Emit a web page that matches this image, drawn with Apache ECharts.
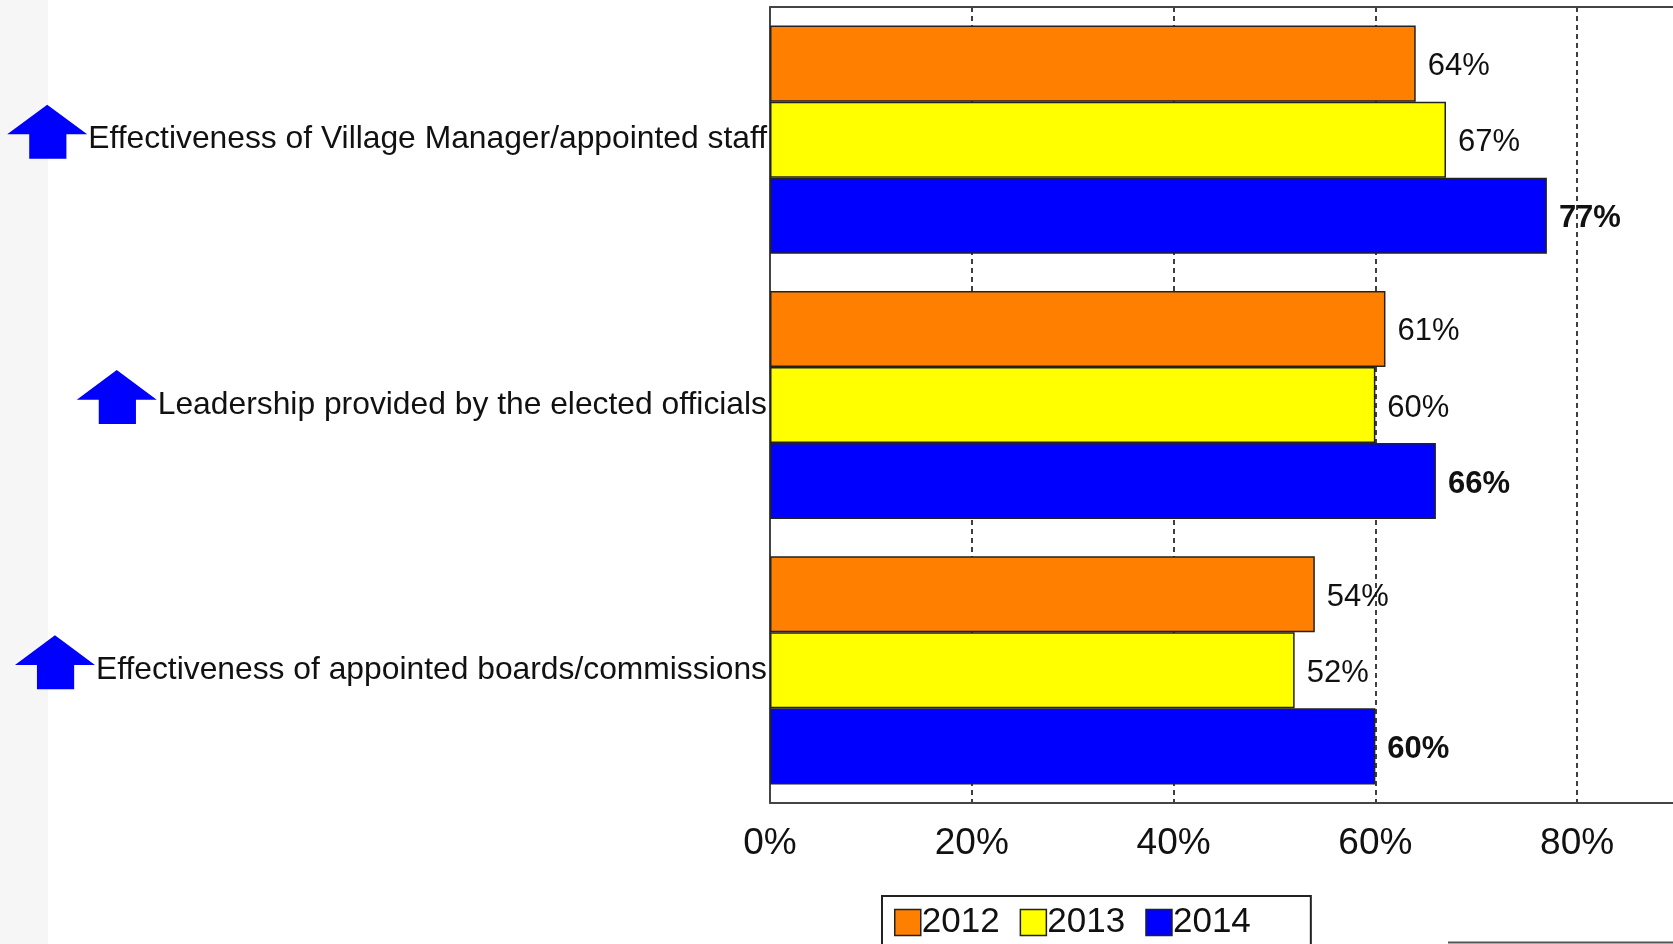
<!DOCTYPE html>
<html>
<head>
<meta charset="utf-8">
<title>Satisfaction with village leadership</title>
<script src="https://cdn.jsdelivr.net/npm/echarts@6/dist/echarts.min.js"></script>
<style>
    html, body { margin: 0; padding: 0; background: #fff; }
    #chart { width: 1673px; height: 944px; }
</style>
</head>
<body>
<div id="chart"></div>
<script>
// Data
const categories = [
    'Effectiveness of Village Manager/appointed staff',
    'Leadership provided by the elected officials',
    'Effectiveness of appointed boards/commissions'
];
const years = ['2012', '2013', '2014'];
const values2012 = [64, 61, 54];
const values2013 = [67, 60, 52];
const values2014 = [77, 66, 60];
const tickValues = [0, 20, 40, 60, 80];

const FONT = '"Liberation Sans", Arial, sans-serif';
const LABEL_SIZE = 31.8;
const colors = ['#FF8000', '#FFFF00', '#0000FF'];

const chart = echarts.init(document.getElementById('chart'));

function barSeries(name, data, color, bold) {
    return {
        name: name,
        type: 'bar',
        data: data,
        barGap: '0%',
        barCategoryGap: '14%',
        itemStyle: { color: color, borderColor: '#222', borderWidth: 1.5 },
        label: {
            show: true,
            position: 'right',
            distance: 12,
            offset: [0, 3],
            formatter: '{c}%',
            fontFamily: FONT,
            fontSize: 31,
            fontWeight: bold ? 'bold' : 'normal',
            color: '#111'
        }
    };
}

// the plot runs off the right edge of the slide, so the axis stops short of 100%
const option = {
    animation: false,
    backgroundColor: '#fff',
    grid: {
        left: 770,
        top: 7,
        bottom: 141,
        right: 0
    },
    legend: {
        data: years,
        left: 882,
        top: 896,
        orient: 'horizontal',
        icon: 'rect',
        itemWidth: 26,
        itemHeight: 26,
        itemGap: 20,
        padding: [9, 60, 40, 12],
        backgroundColor: '#fff',
        borderColor: '#222',
        borderWidth: 2,
        itemStyle: { borderColor: '#222', borderWidth: 1.5 },
        textStyle: { fontFamily: FONT, fontSize: 35, color: '#111', padding: [0, 0, 0, -4] }
    },
    xAxis: [{
        type: 'value',
        min: 0,
        max: 89.5,
        interval: 20,
        axisLine: { show: true, lineStyle: { color: '#444', width: 2 } },
        axisTick: { show: false },
        splitLine: {
            show: true,
            showMinLine: false,
            showMaxLine: false,
            lineStyle: { color: '#000', type: [5, 4], width: 1.5 }
        },
        axisLabel: {
            margin: 22,
            fontFamily: FONT,
            fontSize: 37,
            color: '#111',
            showMaxLabel: false,
            formatter: function (v) { return tickValues.indexOf(v) >= 0 ? v + '%' : ''; }
        }
    }, {
        // top border of the plot
        type: 'value',
        position: 'top',
        min: 0,
        max: 89.5,
        interval: 20,
        axisLine: { show: true, lineStyle: { color: '#444', width: 2 } },
        axisTick: { show: false },
        axisLabel: { show: false },
        splitLine: { show: false }
    }],
    yAxis: {
        type: 'category',
        data: categories,
        inverse: true,
        axisLine: { show: true, lineStyle: { color: '#444', width: 2 } },
        axisTick: { show: false },
        axisLabel: {
            margin: 3,
            padding: [5, 0, 0, 0],
            fontFamily: FONT,
            fontSize: LABEL_SIZE,
            color: '#111'
        }
    },
    series: [
        barSeries('2012', values2012, colors[0], false),
        barSeries('2013', values2013, colors[1], false),
        barSeries('2014', values2014, colors[2], true)
    ]
};
chart.setOption(option);

// Blue "up" arrows sitting just left of each category label
const ctx = document.createElement('canvas').getContext('2d');
ctx.font = LABEL_SIZE + 'px ' + FONT;
const arrowW = 80, arrowH = 54;
const graphics = [
    // faint textured strip on the left of the slide
    { type: 'rect', shape: { x: 0, y: 0, width: 48, height: 944 }, style: { fill: '#f6f6f6' }, silent: true },
    // short rule at the bottom right of the slide
    { type: 'line', shape: { x1: 1448, y1: 942.5, x2: 1673, y2: 942.5 }, style: { stroke: '#555', lineWidth: 2 } }
];
categories.forEach(function (name) {
    const cy = chart.convertToPixel({ yAxisIndex: 0 }, name);
    const textLeft = 770 - 3 - ctx.measureText(name).width;
    const x0 = textLeft - 1 - arrowW;
    const y0 = cy - 35;
    const w = arrowW, h = arrowH;
    graphics.push({
        type: 'polygon',
        shape: {
            points: [
                [x0 + w * 0.5, y0],
                [x0 + w, y0 + h * 0.55],
                [x0 + w * 0.74, y0 + h * 0.55],
                [x0 + w * 0.74, y0 + h],
                [x0 + w * 0.275, y0 + h],
                [x0 + w * 0.275, y0 + h * 0.55],
                [x0, y0 + h * 0.55]
            ]
        },
        style: { fill: '#0000FF' }
    });
});
chart.setOption({ graphic: graphics });
</script>
</body>
</html>
